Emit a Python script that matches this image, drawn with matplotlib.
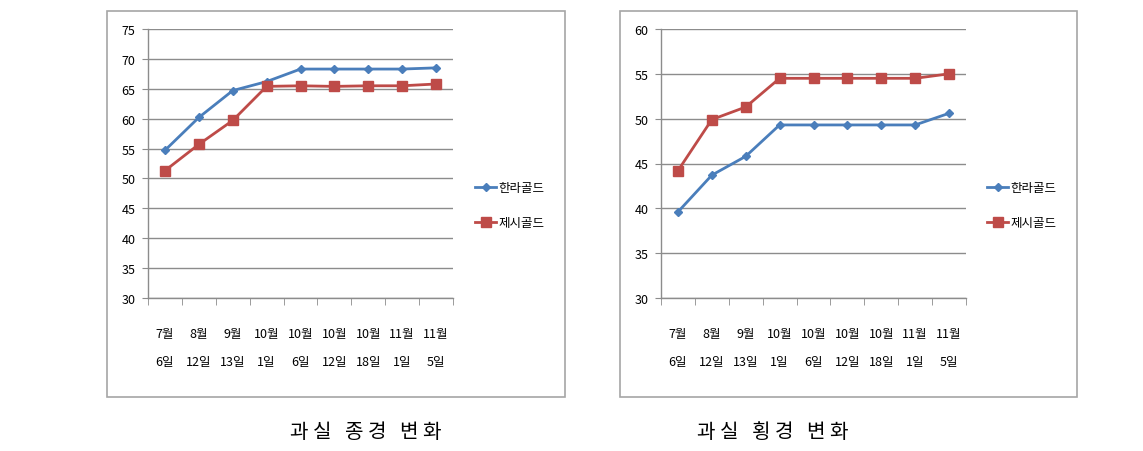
import matplotlib
matplotlib.use('Agg')
import matplotlib.pyplot as plt
from matplotlib.patches import Rectangle

plt.rcParams['font.family'] = ['Noto Sans CJK KR', 'DejaVu Sans']

# data
months = ['7월', '8월', '9월', '10월', '10월', '10월', '10월', '11월', '11월']
days = ['6일', '12일', '13일', '1일', '6일', '12일', '18일', '1일', '5일']
series_names = ['한라골드', '제시골드']

length_halla = [54.7, 60.2, 64.7, 66.2, 68.3, 68.3, 68.3, 68.3, 68.5]
length_jessy = [51.3, 55.7, 59.7, 65.4, 65.5, 65.4, 65.5, 65.5, 65.8]
width_halla = [39.6, 43.7, 45.8, 49.3, 49.3, 49.3, 49.3, 49.3, 50.6]
width_jessy = [44.2, 49.9, 51.3, 54.5, 54.5, 54.5, 54.5, 54.5, 55.0]

captions = ['과 실   종 경   변 화', '과 실   횡 경   변 화']

BLUE = '#4A7EBB'
RED = '#BE4B48'
GRID = '#8c8c8c'
W, H = 1143, 452

fig = plt.figure(figsize=(W / 100, H / 100), dpi=100)


def px_axes(x0, y0, x1, y1):
    # pixel box (top-left origin) -> figure fraction
    return fig.add_axes([x0 / W, 1 - y1 / H, (x1 - x0) / W, (y1 - y0) / H])


def draw_chart(box, plot, ylim, halla, jessy, legend_xy, caption, cap_xy):
    bx0, by0, bx1, by1 = box
    fig.patches.append(Rectangle((bx0 / W, 1 - by1 / H), (bx1 - bx0) / W, (by1 - by0) / H,
                                 transform=fig.transFigure, fill=False,
                                 edgecolor='#a6a6a6', linewidth=1.2))
    ax = px_axes(*plot)
    x = list(range(len(months)))
    l1, = ax.plot(x, halla, color=BLUE, linewidth=2, marker='D', markersize=4,
                  markerfacecolor=BLUE, markeredgecolor=BLUE)
    l2, = ax.plot(x, jessy, color=RED, linewidth=2, marker='s', markersize=6.5,
                  markerfacecolor=RED, markeredgecolor=RED)
    ax.set_xlim(-0.5, len(months) - 0.5)
    ax.set_ylim(*ylim)
    ax.set_yticks(range(ylim[0], ylim[1] + 1, 5))
    ax.grid(axis='y', color=GRID, linewidth=1)
    ax.set_axisbelow(True)
    for s in ['top', 'right']:
        ax.spines[s].set_visible(False)
    for s in ['left', 'bottom']:
        ax.spines[s].set_color(GRID)
        ax.spines[s].set_linewidth(1)
    ax.tick_params(axis='y', length=4, color=GRID, labelsize=9, pad=5)
    ax.set_xticks(x)
    ax.set_xticklabels([m + '\n' + d for m, d in zip(months, days)], linespacing=2.5)
    ax.set_xticks([i - 0.5 for i in range(len(months) + 1)], minor=True)
    ax.tick_params(axis='x', which='major', length=0, labelsize=9, pad=21)
    ax.tick_params(axis='x', which='minor', length=5, color=GRID, direction='out')
    fig.legend([l1, l2], series_names, loc='upper left',
               bbox_to_anchor=(legend_xy[0] / W, 1 - legend_xy[1] / H),
               frameon=False, fontsize=9, handlelength=1.7, handletextpad=0.2,
               labelspacing=1.75, borderpad=0, borderaxespad=0)
    fig.text(cap_xy[0] / W, 1 - cap_xy[1] / H, caption, ha='center', va='center',
             fontsize=14.5, fontweight='light')
    return ax


draw_chart((107, 12, 565, 398), (148, 30, 453, 299), (30, 75),
           length_halla, length_jessy, (475, 182), captions[0], (366, 433))
draw_chart((620, 12, 1077, 398), (661, 30, 966, 299), (30, 60),
           width_halla, width_jessy, (987, 182), captions[1], (773, 433))

fig.savefig('out.png', dpi=100)
